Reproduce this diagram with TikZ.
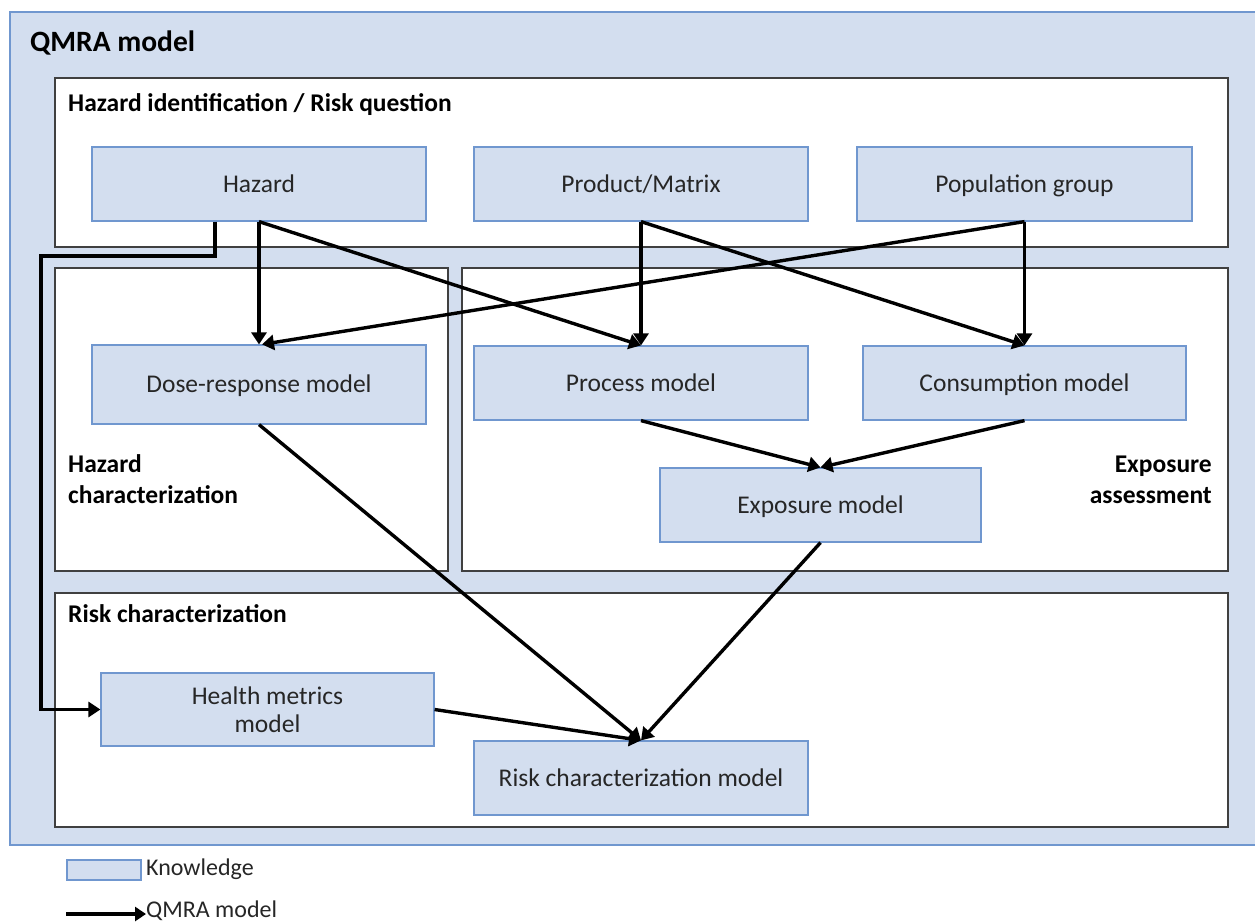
\documentclass[tikz,border=0pt]{standalone}
\usepackage{fontspec}
\setmainfont{Carlito}
\usetikzlibrary{arrows.meta}
\definecolor{kfill}{HTML}{D3DEEF}
\definecolor{kline}{HTML}{7097CF}
\definecolor{gline}{HTML}{404040}
\definecolor{txt}{HTML}{262626}
\tikzset{
  know/.style={draw=kline, line width=1.2pt, fill=kfill, inner sep=0pt, text=txt,
    font=\fontsize{25.5}{28}\selectfont, text height=16pt, text depth=0pt},
  section/.style={draw=gline, line width=1.3pt, fill=white},
  flow/.style={line width=3.4pt, -{Triangle[length=12pt,width=15pt]}},
  head/.style={font=\bfseries\fontsize{25.5}{28}\selectfont, inner sep=0pt, text=black},
}
\begin{document}
\begin{tikzpicture}[x=1pt,y=-1pt]
\useasboundingbox (0,0) rectangle (1255,922);
% outer QMRA box
\draw[kline, line width=1.2pt, fill=kfill] (10,12) rectangle (1270,845);
\node[font=\bfseries\fontsize{29.5}{32}\selectfont, inner sep=0pt, anchor=base west] (title) at (30,51) {QMRA model};
% sections
\draw[section] (55,78) rectangle (1228,247);
\draw[section] (55,268) rectangle (448,571);
\draw[section] (462,268) rectangle (1228,571);
\draw[section] (55,593) rectangle (1228,827);
\node[head, anchor=base west] (h1) at (68,111) {Hazard identification / Risk question};
\node[head, anchor=base west] (h2a) at (68,472) {Hazard};
\node[head, anchor=base west] (h2b) at (68,503) {characterization};
\node[head, anchor=base east] (h3a) at (1212,472) {Exposure};
\node[head, anchor=base east] (h3b) at (1212,503) {assessment};
\node[head, anchor=base west] (h4) at (68,622) {Risk characterization};
% knowledge nodes
\node[know, minimum width=334pt, minimum height=74pt] (hazard) at (259,184) {Hazard};
\node[know, minimum width=334pt, minimum height=74pt] (product) at (641,184) {Product/Matrix};
\node[know, minimum width=335pt, minimum height=74pt] (population) at (1024.5,184) {Population group};
\node[know, minimum width=334pt, minimum height=79pt] (dose) at (259,384.5) {Dose-response model};
\node[know, minimum width=334pt, minimum height=74pt] (process) at (641,383) {Process model};
\node[know, minimum width=323pt, minimum height=74pt] (consumption) at (1024.5,383) {Consumption model};
\node[know, minimum width=321pt, minimum height=74pt] (exposure) at (820.5,505) {Exposure model};
\node[know, minimum width=333pt, minimum height=73pt, text height=, text depth=, align=center] (health) at (267.5,709.5) {Health metrics\\model};
\node[know, minimum width=334pt, minimum height=74pt] (riskm) at (641,778) {Risk characterization model};
% connectors
\coordinate (e1) at (215,256);
\coordinate (e2) at (41,256);
\draw[flow] (hazard.south -| e1) -- (e1) -- (e2) |- (health.west);
\draw[flow] (hazard.south) -- (dose.north);
\draw[flow] (hazard.south) -- (process.north);
\draw[flow] (product.south) -- (process.north);
\draw[flow] (product.south) -- (consumption.north);
\draw[flow] (population.south) -- (consumption.north);
\draw[flow] (population.south) -- ([xshift=3pt]dose.north);
\draw[flow] (process.south) -- (exposure.north);
\draw[flow] (consumption.south) -- (exposure.north);
\draw[flow] (dose.south) -- (riskm.north);
\draw[flow] (exposure.south) -- (riskm.north);
\draw[flow] (health.east) -- (riskm.north);
% legend
\node[draw=kline, line width=1.2pt, fill=kfill, minimum width=74pt, minimum height=20pt, inner sep=0pt] (lgbox) at (104,870) {};
\node[font=\fontsize{24}{26}\selectfont, inner sep=0pt, anchor=base west, text=txt] (lgk) at (146,875) {Knowledge};
\coordinate (la) at (66,914);
\node[font=\fontsize{24}{26}\selectfont, inner sep=0pt, anchor=base west, text=txt] (lgq) at (146,917) {QMRA model};
\draw[line width=3.4pt, -{Triangle[length=11pt,width=14pt]}] (la) -- (lgq.west |- la);
\end{tikzpicture}
\end{document}
